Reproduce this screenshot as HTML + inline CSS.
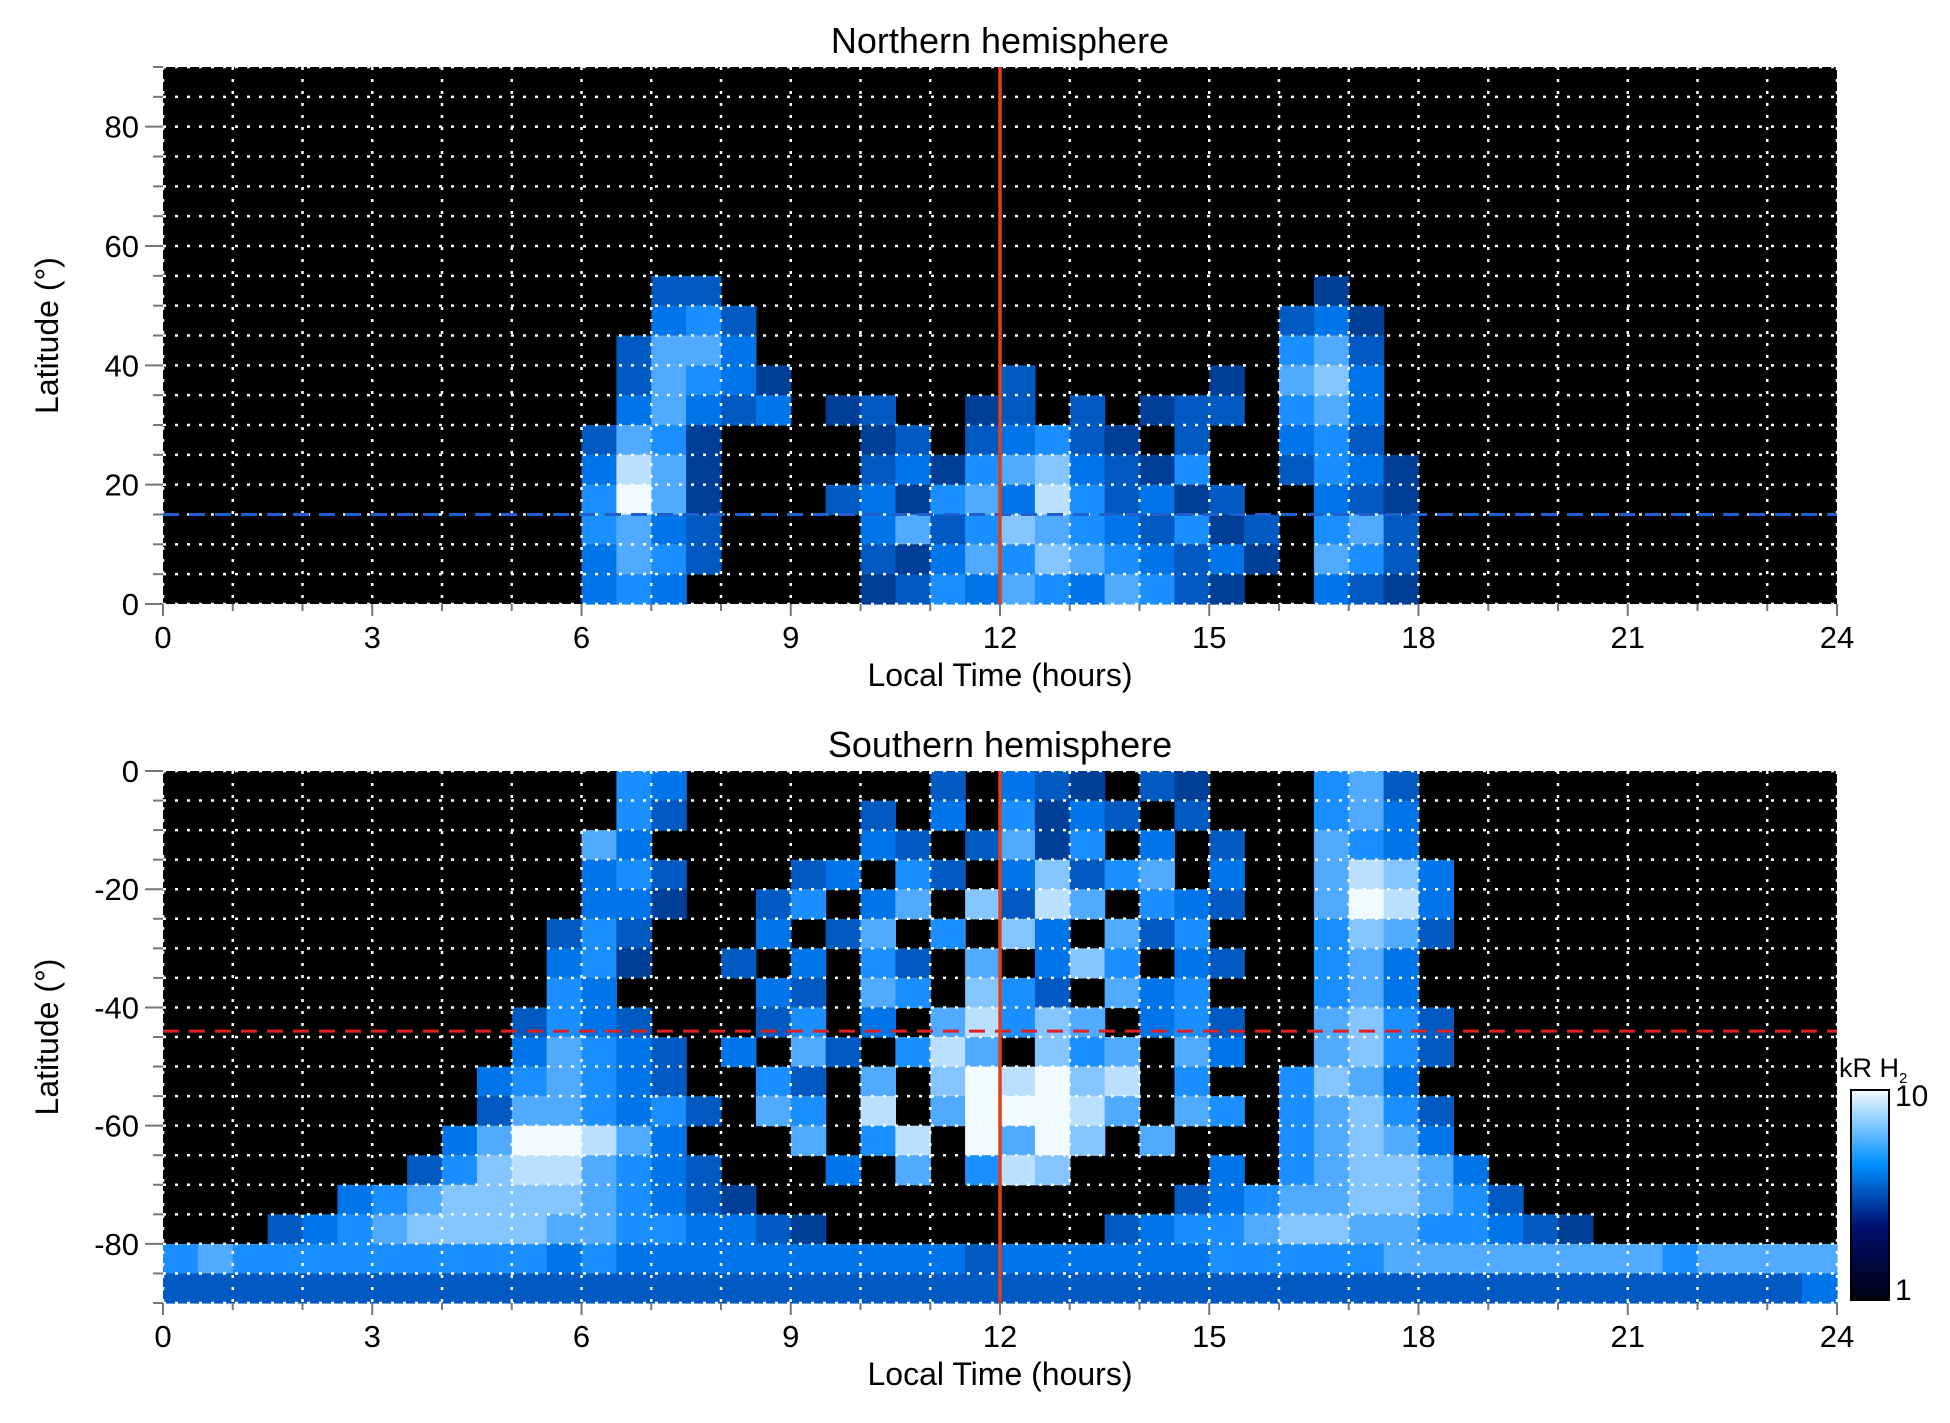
<!DOCTYPE html>
<html><head><meta charset="utf-8"><style>
html,body{margin:0;padding:0;background:#fff;}
svg{display:block;font-family:"Liberation Sans",sans-serif;}
</style></head><body>
<svg id="fig" width="1950" height="1423" viewBox="0 0 1950 1423" xmlns="http://www.w3.org/2000/svg"></svg>
<script>
// ---- data ----
const xTicks = [0,3,6,9,12,15,18,21,24];
const northYTicks = [0,20,40,60,80];
const southYTicks = [0,-20,-40,-60,-80];
const northRefLat = 15;
const southRefLat = -44;
const noonLT = 12;
// intensity grid, 48 columns (0.5 h) x 18 rows (5 deg), top row first
const northGrid = [
"00000000 00000000 00000000 00000000 00000000 00000000",
"00000000 00000000 00000000 00000000 00000000 00000000",
"00000000 00000000 00000000 00000000 00000000 00000000",
"00000000 00000000 00000000 00000000 00000000 00000000",
"00000000 00000000 00000000 00000000 00000000 00000000",
"00000000 00000000 00000000 00000000 00000000 00000000",
"00000000 00000000 00000000 00000000 00000000 00000000",
"00000000 00000033 00000000 00000000 02000000 00000000",
"00000000 00000045 30000000 00000000 34200000 00000000",
"00000000 00000366 40000000 00000000 56300000 00000000",
"00000000 00000365 42000000 30000020 67400000 00000000",
"00000000 00000464 34023002 30302330 56400000 00000000",
"00000000 00003652 00002303 45320300 45300000 00000000",
"00000000 00004862 00003425 67432500 35420000 00000000",
"00000000 00005962 00034256 48534230 04320000 00000000",
"00000000 00005643 00004635 76543523 05630000 00000000",
"00000000 00004653 00003246 57654342 06530000 00000000",
"00000000 00004540 00002354 65465320 04320000 00000000"
];
const southGrid = [
"00000000 00000540 00000030 43203200 05630000 00000000",
"00000000 00000530 00003040 52430300 05640000 00000000",
"00000000 00006400 00004303 62504030 06540000 00000000",
"00000000 00004530 00340530 47356040 06874000 00000000",
"00000000 00004420 03504607 38605430 06984000 00000000",
"00000000 00035300 04036050 74063500 05763000 00000000",
"00000000 00045200 30405306 04750430 05640000 00000000",
"00000000 00054000 04306507 53064500 05640000 00000000",
"00000000 00354300 03504068 57604530 06753000 00000000",
"00000000 00465430 40630586 07560640 06753000 00000000",
"00000000 04565430 05306079 89780500 57640000 00000000",
"00000000 03665453 06508069 99860650 56753000 00000000",
"00000000 46998640 00605809 69706000 56764000 00000000",
"00000003 57886543 00040605 87000040 56776400 00000000",
"00000456 77776543 20000000 00000345 66776530 00000000",
"00034567 77766554 43200000 00034556 77665543 20000000",
"56555555 55545444 44444443 44444455 55566666 66656666",
"33333333 33333333 33333333 33333333 33333333 33333334"
];
</script>
<script>
const NS='http://www.w3.org/2000/svg';
const svg=document.getElementById('fig');
function mk(tag,attrs,parent){const e=document.createElementNS(NS,tag);for(const k in attrs)e.setAttribute(k,attrs[k]);(parent||svg).appendChild(e);return e;}
function color(v){
  if(v<=0) return '#000';
  const t=v/9;
  let r,g,b;
  if(t<0.5){const u=t/0.5;r=0;g=Math.round(10+120*u);b=Math.round(70+185*u);}
  else{const u=(t-0.5)/0.5;r=Math.round(240*u);g=Math.round(130+120*u);b=255;}
  return `rgb(${r},${g},${b})`;
}
const X0=163,X1=1837;
function xs(h){return X0+(X1-X0)*h/24;}

function panel(name,top,bot,latTop,latBot,grid,yTicks,refLat,refColor,title){
  const g=mk('g',{});
  
  
  const ys=l=>top+(bot-top)*(latTop-l)/(latTop-latBot);
  const bg=mk('rect',{x:X0,y:top,width:X1-X0,height:bot-top,fill:'#000'},g);
  
  
  const cells=mk('g',{},g);
  
  
  const rows=grid.map(s=>s.replace(/ /g,''));
  const nr=rows.length,nc=rows[0].length;
  const dl=(latTop-latBot)/nr;
  rows.forEach((row,i)=>{
    for(let j=0;j<nc;j++){
      const v=+row[j]; if(!v) continue;
      const x=xs(j*24/nc), w=xs((j+1)*24/nc)-x;
      const y=ys(latTop-i*dl), h=ys(latTop-(i+1)*dl)-y;
      const c=mk('rect',{x:x.toFixed(1),y:y.toFixed(1),width:(w+0.6).toFixed(1),height:(h+0.6).toFixed(1),fill:color(v)},cells);
      
      
    }
  });
  // grid
  const gg=mk('g',{stroke:'#fff','stroke-width':2.5,'stroke-dasharray':'3 9',fill:'none'},g);
  
  
  for(let h=0;h<=24;h++) mk('line',{x1:xs(h),x2:xs(h),y1:top,y2:bot},gg);
  for(let l=latBot;l<=latTop;l+=5) mk('line',{x1:X0,x2:X1,y1:ys(l),y2:ys(l)},gg);
  // ref lines
  const rl=mk('line',{x1:X0,x2:X1,y1:ys(refLat),y2:ys(refLat),stroke:refColor,'stroke-width':3,'stroke-dasharray':'16 10'},g);
  
  
  const nl=mk('line',{x1:xs(noonLT),x2:xs(noonLT),y1:top,y2:bot,stroke:'#e0401a','stroke-width':3.5},g);
  
  
  // y ticks
  for(let l=latBot;l<=latTop;l+=5){
    const major=(l%20===0);
    mk('line',{x1:X0-(major?18:10),x2:X0,y1:ys(l),y2:ys(l),stroke:'#777','stroke-width':2},g);
  }
  yTicks.forEach(t=>{
    const tx=mk('text',{x:X0-24,y:ys(t)+11,'text-anchor':'end','font-size':31,fill:'#000'},g);
    tx.textContent=t;
    
    
  });
  // x ticks
  for(let h=0;h<=24;h++) mk('line',{x1:xs(h),x2:xs(h),y1:bot,y2:bot+(h%3===0?12:7),stroke:'#777','stroke-width':2},g);
  xTicks.forEach(t=>{
    const tx=mk('text',{x:xs(t),y:bot+44,'text-anchor':'middle','font-size':31,fill:'#000'},g);
    tx.textContent=t;
    
    
  });
  const xl=mk('text',{x:(X0+X1)/2,y:bot+82,'text-anchor':'middle','font-size':32,fill:'#000'},g);
  xl.textContent='Local Time (hours)';
  
  
  const cy=(top+bot)/2;
  const yl=mk('text',{x:58,y:cy,'text-anchor':'middle','font-size':32,fill:'#000',transform:`rotate(-90 58 ${cy})`},g);
  yl.textContent='Latitude (°)';
  
  
  const tt=mk('text',{x:(X0+X1)/2,y:top-14,'text-anchor':'middle','font-size':36,fill:'#000'},g);
  tt.textContent=title;
  
  
}
panel('north',67,604,90,0,northGrid,northYTicks,northRefLat,'#1f5fd0','Northern hemisphere');
panel('south',771,1303,0,-90,southGrid,southYTicks,southRefLat,'#e02020','Southern hemisphere');

// colorbar
const defs=mk('defs',{});
const lg=mk('linearGradient',{id:'cb',x1:0,y1:1,x2:0,y2:0},defs);
[[0,'#000010'],[0.35,'#001070'],[0.65,'#0090ff'],[1,'#f4fbff']].forEach(s=>mk('stop',{offset:s[0],'stop-color':s[1]},lg));
const cb=mk('rect',{x:1851,y:1090,width:38,height:210,fill:'url(#cb)',stroke:'#000','stroke-width':2});


const c1=mk('text',{x:1895,y:1106,'font-size':30,fill:'#000'});c1.textContent='10';


const c2=mk('text',{x:1895,y:1300,'font-size':30,fill:'#000'});c2.textContent='1';


const ct=mk('text',{x:1839,y:1077,'font-size':27,fill:'#000'});
ct.innerHTML='kR H<tspan font-size="15" dy="6">2</tspan>';


</script>
</body></html>
